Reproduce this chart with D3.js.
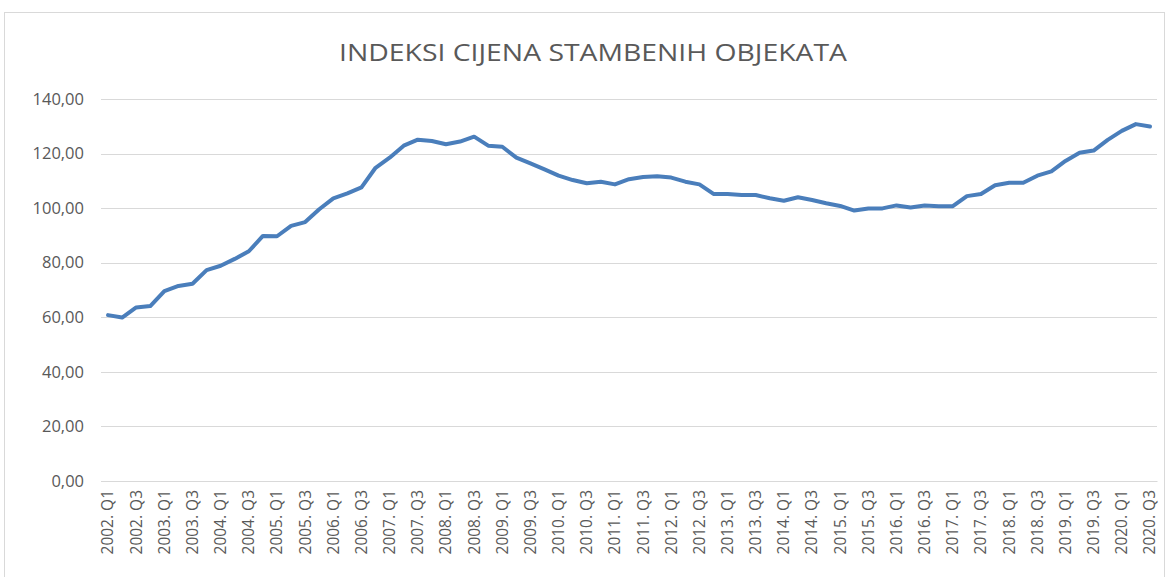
<!DOCTYPE html>
<html><head><meta charset="utf-8">
<script src="https://cdn.jsdelivr.net/npm/d3@7"></script>
<style>body{margin:0;background:#fff}svg{display:block}</style>
</head><body><svg id="c" width="1169" height="577"></svg>
<script>
const years = d3.range(2002, 2021);
const quarters = ["Q1","Q2","Q3","Q4"];
const categories = [];
years.forEach(y => quarters.forEach(q => { if (!(y === 2020 && q === "Q4")) categories.push(y + ". " + q); }));
const values = [
 60.8, 59.9, 63.6, 64.1, 69.6, 71.5, 72.3, 77.3, 78.9, 81.4,
 84.2, 89.8, 89.7, 93.5, 94.9, 99.6, 103.6, 105.4, 107.6, 114.8,
 118.5, 122.9, 125.1, 124.6, 123.4, 124.4, 126.2, 122.9, 122.5, 118.5,
 116.4, 114.2, 111.9, 110.3, 109.1, 109.7, 108.7, 110.6, 111.4, 111.7,
 111.2, 109.7, 108.7, 105.2, 105.2, 104.8, 104.8, 103.6, 102.7, 104.0,
 103.0, 101.8, 100.8, 99.1, 99.9, 99.9, 101.0, 100.2, 101.0, 100.7,
 100.7, 104.4, 105.2, 108.4, 109.3, 109.3, 111.9, 113.5, 117.3, 120.3,
 121.1, 125.0, 128.3, 130.8, 129.9
];
const yTicks = [0, 20, 40, 60, 80, 100, 120, 140];
const title = "INDEKSI CIJENA STAMBENIH OBJEKATA";

const svg = d3.select("#c");
const font = "'Open Sans', sans-serif";
const textColor = "#595959";

svg.append("rect").attr("x", 4.5).attr("y", 12.5).attr("width", 1160).attr("height", 600)
  .attr("fill", "none").attr("stroke", "#d9d9d9");

const x = d3.scaleBand().domain(categories).range([101, 1157]);
const y = d3.scaleLinear().domain([0, 140]).range([481, 99]);

svg.append("text").attr("x", 593).attr("y", 61).attr("text-anchor", "middle")
  .attr("font-family", font).attr("font-size", 23).attr("fill", textColor)
  .attr("textLength", 508).attr("lengthAdjust", "spacingAndGlyphs").text(title);

const yAxis = d3.axisLeft(y).tickValues(yTicks).tickSize(-(1157 - 101))
  .tickFormat(d => d3.format(".2f")(d).replace(".", ","));
const gy = svg.append("g").attr("transform", "translate(101,0)").call(yAxis);
gy.select(".domain").remove();
gy.selectAll(".tick line").attr("stroke", "#d9d9d9").attr("shape-rendering", "crispEdges");
gy.selectAll(".tick text").attr("x", -17).attr("font-family", font).attr("font-size", 16.5)
  .attr("fill", textColor);

const xAxis = d3.axisBottom(x).tickValues(categories.filter((c, i) => i % 2 === 0)).tickSize(0);
const gx = svg.append("g").attr("transform", "translate(0,481)").call(xAxis);
gx.select(".domain").attr("stroke", "#d9d9d9");
gx.selectAll(".tick text").attr("transform", "rotate(-90)").attr("text-anchor", "end")
  .attr("x", -9).attr("y", 0).attr("dy", "0.35em")
  .attr("font-family", font).attr("font-size", 15.5).attr("fill", textColor);

const line = d3.line().x((d, i) => x(categories[i]) + x.bandwidth() / 2).y(d => y(d));
svg.append("path").datum(values).attr("d", line).attr("fill", "none")
  .attr("stroke", "#4a7ebb").attr("stroke-width", 4).attr("stroke-linejoin", "round")
  .attr("stroke-linecap", "round");
</script></body></html>
